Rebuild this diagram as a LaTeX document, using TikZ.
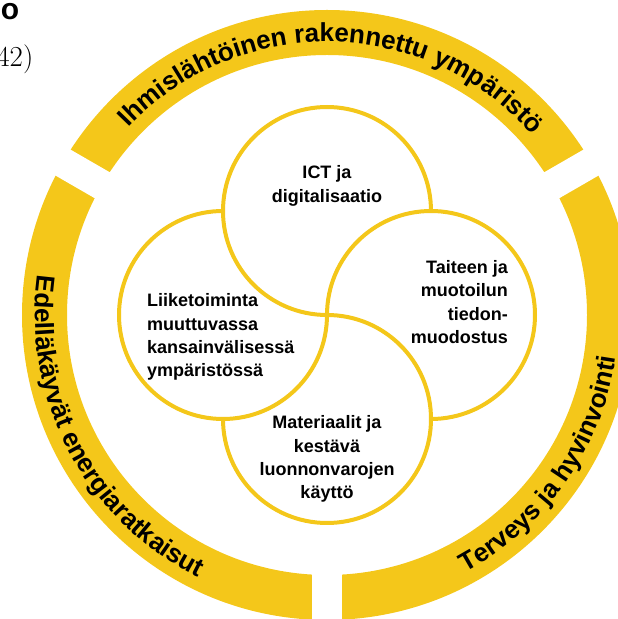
\documentclass[tikz,border=0pt]{standalone}
\usepackage{fontspec}
\setsansfont{Liberation Sans}
\usepackage{tikz}
\usetikzlibrary{decorations.text}
\usepackage{xcolor}
\definecolor{ringyellow}{RGB}{244,199,26}
\newcommand{\ringfont}{\sffamily\bfseries\fontsize{26}{30}\selectfont}

\begin{document}
\begin{tikzpicture}[x=1pt, y=1pt,
    ring/.style={fill=ringyellow, even odd rule},
    gapline/.style={draw=white, line width=30pt},
    petal/.style={draw=ringyellow, line width=4pt},
    lbl/.style={font=\sffamily\bfseries\fontsize{18}{23.3}\selectfont, inner sep=0pt},
    ringtext/.style={decorate, decoration={text along path, text align=center, text={#1}}}]
    \useasboundingbox (0,0) rectangle (618,619);
    \coordinate (O) at (327,304);
    % outer ring in three parts
    \fill[ring] (O) circle[radius=305] (O) circle[radius=260];
    \foreach \a in {30,150,270}
      \draw[gapline] (O) ++(\a:250) -- ++(\a:70);
    \path[ringtext={|\ringfont|Ihmislähtöinen rakennettu ympäristö}]
      (O) ++(140:273) arc[start angle=140, end angle=38, radius=273];
    \path[ringtext={|\ringfont|Edelläkäyvät energiaratkaisut}]
      (O) ++(160:292) arc[start angle=160, end angle=256, radius=292];
    \path[ringtext={|\ringfont|Terveys ja hyvinvointi}]
      (O) ++(280:292) arc[start angle=280, end angle=370, radius=292];
    % four circles, each one over the next
    \coordinate (ctop) at (327,408);
    \coordinate (cright) at (431,304);
    \coordinate (cbot) at (327,200);
    \coordinate (cleft) at (223,304);
    \fill[white] (ctop) circle[radius=104] (cright) circle[radius=104]
      (cbot) circle[radius=104] (cleft) circle[radius=104];
    \draw[petal] (ctop) ++(0:104) arc[start angle=0, end angle=270, radius=104];
    \draw[petal] (cright) ++(270:104) arc[start angle=270, end angle=540, radius=104];
    \draw[petal] (cbot) ++(180:104) arc[start angle=180, end angle=450, radius=104];
    \draw[petal] (cleft) ++(90:104) arc[start angle=90, end angle=360, radius=104];
    \node[lbl, align=center] (ict) at (327,433) {ICT ja\\digitalisaatio};
    \node[lbl, align=left, anchor=west] (liike) at (147,282)
      {Liiketoiminta\\muuttuvassa\\kansainvälisessä\\ympäristössä};
    \node[lbl, align=right, anchor=east] (taide) at (508,317)
      {Taiteen ja\\muotoilun\\tiedon-\\muodostus};
    \node[lbl, align=center] (mater) at (327,160)
      {Materiaalit ja\\kestävä\\luonnonvarojen\\käyttö};
    % cut-off text at the top left
    \node[anchor=base east, inner sep=0pt, font=\sffamily\bfseries\fontsize{30}{36}\selectfont] (head) at (19.5,599) {o};
    \node[anchor=base east, inner sep=0pt, font=\fontsize{29}{34}\selectfont] (src) at (33.5,552) {42)};
\end{tikzpicture}
\end{document}
